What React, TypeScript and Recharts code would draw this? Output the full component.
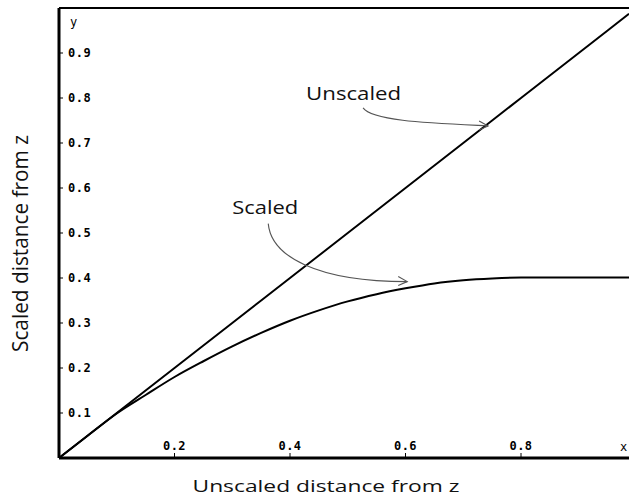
import * as React from "react";
import {
  LineChart,
  Line,
  XAxis,
  YAxis,
  ReferenceLine,
  ReferenceDot,
} from "recharts";

// distance from z (x axis)
const distance = [
  0, 0.05, 0.1, 0.15, 0.2, 0.25, 0.3, 0.35, 0.4, 0.45, 0.5, 0.55, 0.6, 0.65,
  0.7, 0.75, 0.8, 0.85, 0.9, 0.95, 0.987,
];
const unscaled = [
  0, 0.05, 0.1, 0.15, 0.2, 0.25, 0.3, 0.35, 0.4, 0.45, 0.5, 0.55, 0.6, 0.65,
  0.7, 0.75, 0.8, 0.85, 0.9, 0.95, 0.987,
];
const scaled = [
  0, 0.05, 0.099, 0.14, 0.18, 0.215, 0.248, 0.278, 0.305, 0.328, 0.348, 0.364,
  0.377, 0.388, 0.395, 0.399, 0.401, 0.401, 0.401, 0.401, 0.401,
];
const xTicks = [0.2, 0.4, 0.6, 0.8];
const yTicks = [0.1, 0.2, 0.3, 0.4, 0.5, 0.6, 0.7, 0.8, 0.9];

// where the annotation arrows point (data coords)
const unscaledTip = { x: 0.743, y: 0.738 };
const scaledTip = { x: 0.603, y: 0.392 };

const data = distance.map((d, i) => ({
  d,
  unscaled: unscaled[i],
  scaled: scaled[i],
}));

const W = 629;
const H = 497;
const textFont = "'Open Sans', sans-serif";
const tickFont = "'DejaVu Sans Mono', monospace";
const tickStyle = {
  fill: "#000",
  fontFamily: tickFont,
  fontSize: 12,
  fontWeight: 700,
  letterSpacing: 0.5,
};

function Note({ cx, cy, label, textDx, textDy, textLen, path, head }: any) {
  if (cx == null || cy == null) return null;
  return (
    <g transform={`translate(${cx},${cy})`}>
      <text
        x={textDx}
        y={textDy}
        fontFamily={textFont}
        fontSize={18.5}
        fill="#111"
        textLength={textLen}
        lengthAdjust="spacingAndGlyphs"
      >
        {label}
      </text>
      <path d={path} fill="none" stroke="#555" strokeWidth={1.1} />
      <path d={head} fill="none" stroke="#555" strokeWidth={1.1} />
    </g>
  );
}

export default function App() {
  return (
    <div style={{ position: "absolute", left: 0, top: 0, width: W, height: H, background: "#fff" }}>
      <LineChart
        width={W}
        height={H}
        data={data}
        margin={{ top: 8, right: 0, bottom: 39, left: 59 }}
      >
        <XAxis
          dataKey="d"
          type="number"
          domain={[0, 0.987]}
          ticks={xTicks}
          mirror
          tickSize={5}
          tickMargin={3}
          axisLine={{ stroke: "#000", strokeWidth: 3 }}
          tickLine={{ stroke: "#000", strokeWidth: 1 }}
          tick={tickStyle}
          tickFormatter={(v: number) => v.toFixed(1)}
          allowDataOverflow
        />
        <YAxis
          type="number"
          domain={[0, 1]}
          ticks={yTicks}
          mirror
          tickSize={4}
          tickMargin={5}
          axisLine={{ stroke: "#000", strokeWidth: 3 }}
          tickLine={{ stroke: "#000", strokeWidth: 1 }}
          tick={tickStyle}
          tickFormatter={(v: number) => v.toFixed(1)}
        />
        <ReferenceLine y={1} stroke="#000" strokeWidth={2} />
        <Line
          dataKey="unscaled"
          type="linear"
          stroke="#000"
          strokeWidth={2}
          dot={false}
          isAnimationActive={false}
        />
        <Line
          dataKey="scaled"
          type="monotone"
          stroke="#000"
          strokeWidth={2}
          dot={false}
          isAnimationActive={false}
        />
        <ReferenceDot
          x={unscaledTip.x}
          y={unscaledTip.y}
          r={0}
          shape={(p: any) => (
            <Note
              {...p}
              label="Unscaled"
              textDx={-182}
              textDy={-26}
              textLen={95}
              path="M -125 -18 C -116 -5, -60 -3, 0 0"
              head="M -9 -5 L 0 0 L -9 4"
            />
          )}
        />
        <ReferenceDot
          x={scaledTip.x}
          y={scaledTip.y}
          r={0}
          shape={(p: any) => (
            <Note
              {...p}
              label="Scaled"
              textDx={-175}
              textDy={-68}
              textLen={66}
              path="M -139 -58 C -136 -25, -90 0, 0 0"
              head="M -9 -5 L 0 0 L -9 4"
            />
          )}
        />
        <text x={70} y={26} fontFamily={tickFont} fontSize={12} fill="#000">
          y
        </text>
        <text x={620} y={451} fontFamily={tickFont} fontSize={12} fill="#000">
          x
        </text>
        <text
          x={326}
          y={492}
          textAnchor="middle"
          fontFamily={textFont}
          fontSize={16.5}
          fill="#111"
          textLength={267}
          lengthAdjust="spacingAndGlyphs"
        >
          Unscaled distance from z
        </text>
        <text
          x={28}
          y={243.5}
          transform="rotate(-90, 28, 243.5)"
          textAnchor="middle"
          fontFamily={textFont}
          fontSize={21}
          fill="#111"
          textLength={217}
          lengthAdjust="spacingAndGlyphs"
        >
          Scaled distance from z
        </text>
      </LineChart>
    </div>
  );
}
